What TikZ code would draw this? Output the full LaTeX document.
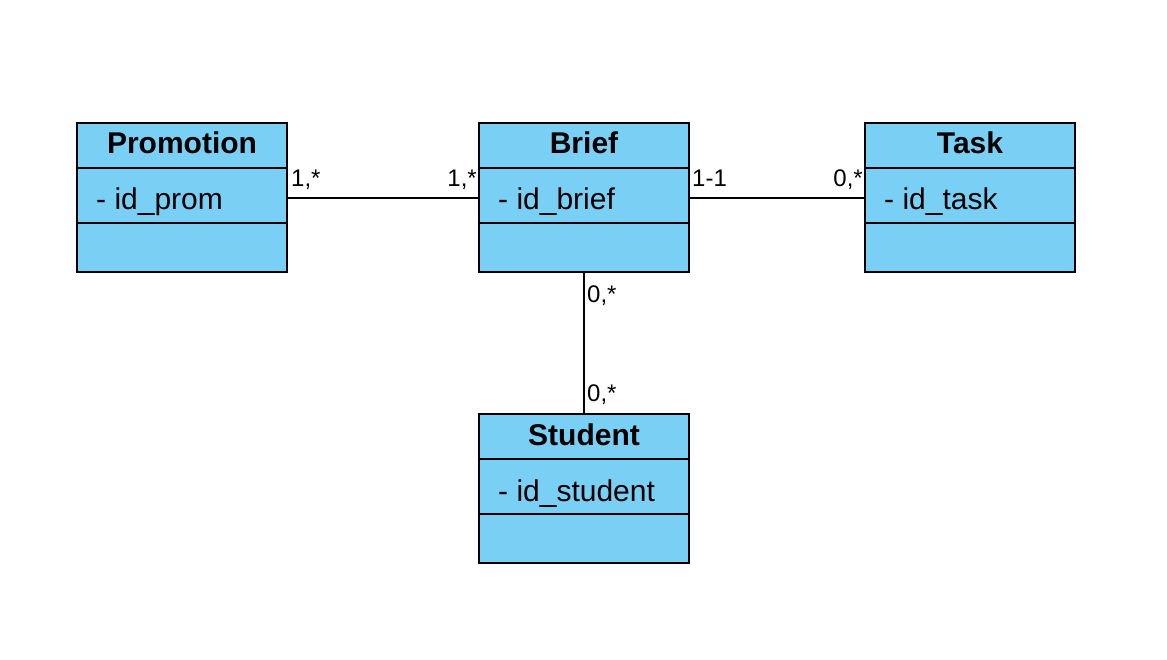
\documentclass[tikz,border=0pt]{standalone}
\usepackage{fontspec}
\setmainfont{Liberation Sans}
\definecolor{classfill}{RGB}{122,207,245}
\tikzset{
  part/.style={draw=black, fill=classfill, line width=1.6pt, minimum width=210pt, inner sep=0pt, outer sep=0pt},
  headpart/.style={part, minimum height=45pt},
  attrpart/.style={part, minimum height=55pt},
  emptypart/.style={part, minimum height=49pt},
  titletext/.style={font=\fontsize{30}{34}\selectfont\bfseries, inner sep=0pt, anchor=base},
  attrtext/.style={font=\fontsize{30}{34}\selectfont, inner sep=0pt, anchor=base west},
  mult/.style={font=\fontsize{24}{28}\selectfont, inner sep=0pt},
  assoc/.style={line width=1.6pt, draw=black}
}
\newcommand\umlclass[5]{% name, left, top, title, attribute
  \node[headpart, anchor=north west] (#1h) at (#2,#3) {};
  \node[attrpart, anchor=north] (#1a) at (#1h.south) {};
  \node[emptypart, anchor=north] (#1b) at (#1a.south) {};
  \path (#1h.north) ++(0,31) node[titletext] (#1t) {#4};
  \path (#1a.north west) ++(19,42) node[attrtext] (#1at) {#5};
}
\begin{document}
\begin{tikzpicture}[x=1pt, y=-1pt]
  \useasboundingbox (0,0) rectangle (1167,660);
  \umlclass{prom}{77}{123}{Promotion}{- id\_prom}
  \umlclass{brief}{479}{123}{Brief}{- id\_brief}
  \umlclass{task}{865}{123}{Task}{- id\_task}
  \umlclass{stud}{479}{414}{Student}{- id\_student}
  \draw[assoc] ([yshift=-2.5pt]proma.east) -- ([yshift=-2.5pt]briefa.west);
  \draw[assoc] ([yshift=-2.5pt]briefa.east) -- ([yshift=-2.5pt]taska.west);
  \draw[assoc] (briefb.south) -- (studh.north);
  \node[mult, anchor=base west] (m1) at (291,187) {1,*};
  \node[mult, anchor=base east] (m2) at (477,187) {1,*};
  \node[mult, anchor=base west] (m3) at (692,187) {1-1};
  \node[mult, anchor=base east] (m4) at (863,187) {0,*};
  \node[mult, anchor=base west] (m5) at (587,302) {0,*};
  \node[mult, anchor=base west] (m6) at (587,401) {0,*};
\end{tikzpicture}
\end{document}
